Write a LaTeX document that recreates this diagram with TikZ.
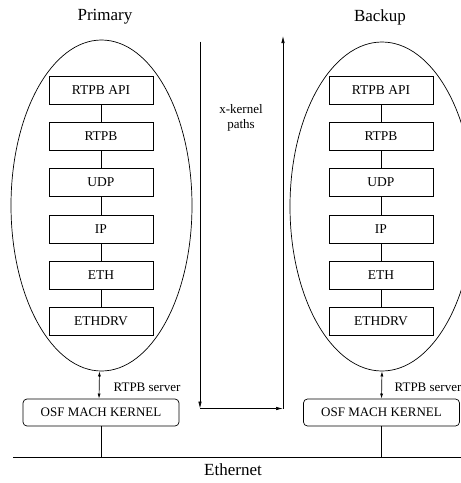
\documentclass[tikz,border=0pt]{standalone}
\usepackage{fontspec}
\setmainfont{Liberation Serif}
\usetikzlibrary{arrows.meta,shapes.geometric}
\begin{document}
\begin{tikzpicture}[x=1pt,y=-1pt,
  line width=0.7pt,
  layer/.style={draw, minimum width=104pt, minimum height=28pt, inner sep=0pt,
    font=\fontsize{13.5}{15}\selectfont},
  kernelbox/.style={draw, rounded corners=4pt, minimum width=156pt, minimum height=27pt,
    inner sep=0pt, font=\fontsize{13}{15}\selectfont},
  host/.style={draw, ellipse, inner sep=0pt},
  title/.style={font=\fontsize{17}{20}\selectfont},
  small/.style={font=\fontsize{13}{15}\selectfont},
  tip/.style={-{Latex[length=7pt,width=3.5pt]}},
  dtip/.style={{Latex[length=5pt,width=3pt]}-{Latex[length=5pt,width=3pt]}}
]
\useasboundingbox (0,0) rectangle (461,483);
\clip (0,0) rectangle (461,483);

% titles
\node[title] (tP) at (105,17) {Primary};
\node[title] (tB) at (380,17) {Backup};

% the two hosts
\node[host, minimum width=181pt, minimum height=331pt] (pe) at (101.5,205.5) {};
\node[host, minimum width=184pt, minimum height=329pt] (be) at (382,206.5) {};

% protocol stacks
\foreach \pre/\cx in {p/101, b/381} {
  \node[layer] (\pre1) at (\cx,90)    {RTPB API};
  \node[layer] (\pre2) at (\cx,136.3) {RTPB};
  \node[layer] (\pre3) at (\cx,182.6) {UDP};
  \node[layer] (\pre4) at (\cx,228.9) {IP};
  \node[layer] (\pre5) at (\cx,275.2) {ETH};
  \node[layer] (\pre6) at (\cx,321.5) {ETHDRV};
  \draw (\pre1) -- (\pre2);
  \draw (\pre2) -- (\pre3);
  \draw (\pre3) -- (\pre4);
  \draw (\pre4) -- (\pre5);
  \draw (\pre5) -- (\pre6);
}

% kernels
\node[kernelbox] (pk) at (101,412.5) {OSF MACH KERNEL};
\node[kernelbox] (bk) at (381.5,412.5) {OSF MACH KERNEL};

\draw[dtip] ([xshift=-2pt]pe.south) -- ([xshift=-2pt]pk.north);
\draw[dtip] (be.south) -- (bk.north);
\node[small, anchor=west] (ps) at (110,387) {RTPB server};
\node[small, anchor=west] (bs) at (391,387) {RTPB server};

% ethernet
\coordinate (eL) at (13,457);
\coordinate (eR) at (461,457);
\draw (eL) -- (eR);
\coordinate (pt) at (pk.south |- eL);
\coordinate (bt) at (bk.south |- eL);
\draw (pk.south) -- (pt);
\draw (bk.south) -- (bt);
\node[title] (eth) at (233,470) {Ethernet};

% x-kernel paths
\coordinate (x1) at (200,41.5);
\coordinate (x2) at (200,408.5);
\coordinate (x3) at (283,408.5);
\coordinate (x4) at (283,36);
\draw[tip] (x1) -- (x2);
\draw[tip] (x2) -- (x3);
\draw[tip] (x3) -- (x4);
\node[small, align=center] (xk) at (241,118) {x-kernel\\paths};
\end{tikzpicture}
\end{document}
